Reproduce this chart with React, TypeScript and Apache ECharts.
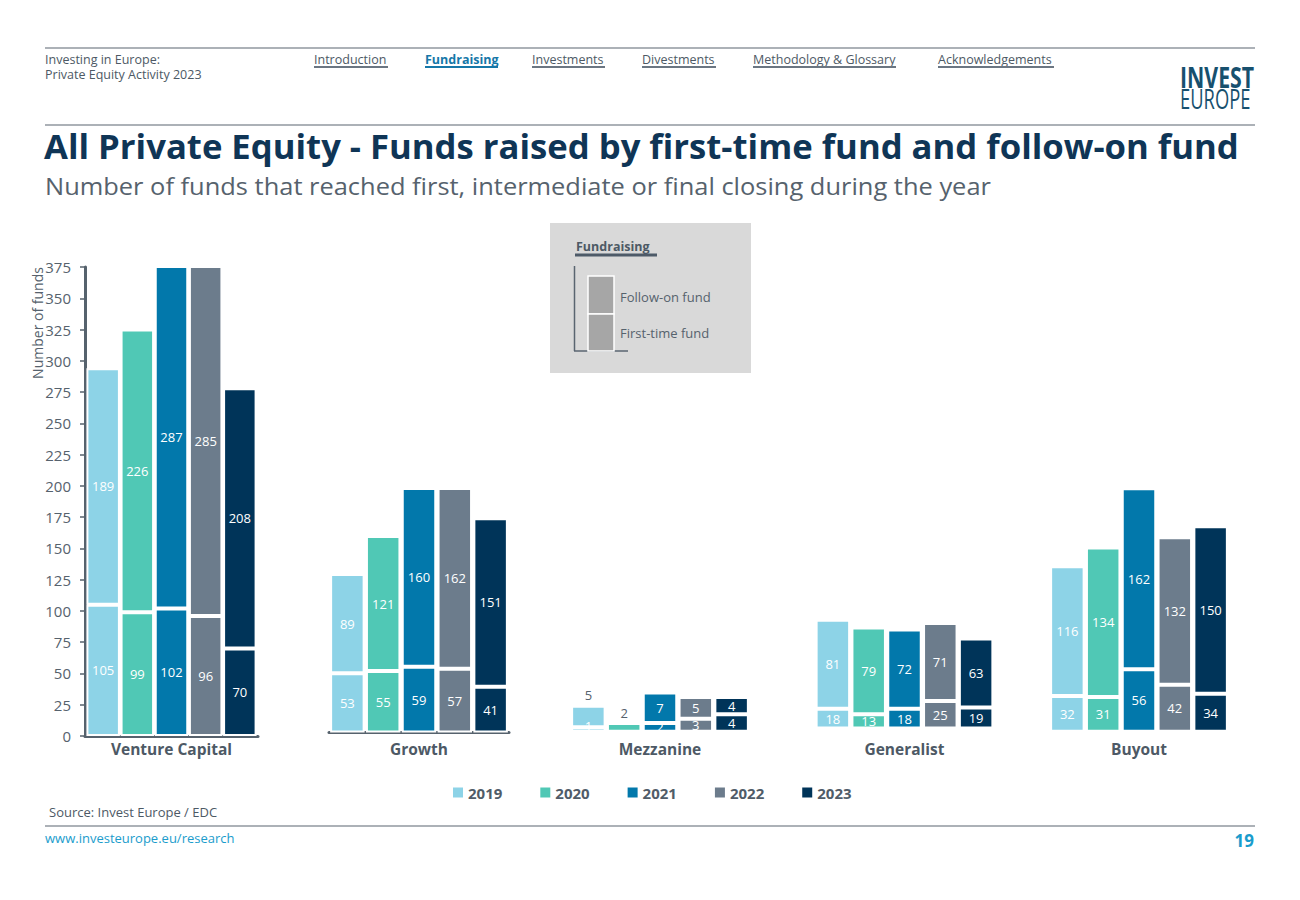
import React, { useEffect, useRef } from "react";
import * as echarts from "echarts";

// ---- data ----
const years = ["2019", "2020", "2021", "2022", "2023"];
const groups = ["Venture Capital", "Growth", "Mezzanine", "Generalist", "Buyout"];
const vcFirst = [105, 99, 102, 96, 70];
const vcFollow = [189, 226, 287, 285, 208];
const growthFirst = [53, 55, 59, 57, 41];
const growthFollow = [89, 121, 160, 162, 151];
const mezzFirst = [1, 0, 2, 3, 4];
const mezzFollow = [5, 2, 7, 5, 4];
const genFirst = [18, 13, 18, 25, 19];
const genFollow = [81, 79, 72, 71, 63];
const buyFirst = [32, 31, 56, 42, 34];
const buyFollow = [116, 134, 162, 132, 150];
const vcTickMax = 375;
const vcTickStep = 25;

const firstByGroup = [vcFirst, growthFirst, mezzFirst, genFirst, buyFirst];
const followByGroup = [vcFollow, growthFollow, mezzFollow, genFollow, buyFollow];

// ---- styling / layout ----
const colors = ["#8dd3e7", "#50c8b5", "#0278ab", "#6c7c8c", "#003459"];
const FONT = '"Open Sans", "Noto Sans", sans-serif';
const GREY = "#56626d";
const layout = [
  { left: 85, width: 173, top: 267, height: 469, max: 375, line: true, bw: 33.5, gap: "2%" },
  { left: 329, width: 180, top: 267, height: 465.5, max: 417, line: true, bw: 34.5, gap: "3.8%" },
  { left: 572, width: 176, top: 267, height: 464.7, max: 107, line: false, bw: 34.5, gap: "3.8%" },
  { left: 816.5, width: 176, top: 267, height: 461.5, max: 420, line: false, bw: 34.5, gap: "3.8%" },
  { left: 1051, width: 176, top: 267, height: 464.7, max: 416, line: false, bw: 34.5, gap: "3.8%" },
];
// mezzanine small follow-on labels drawn above the bar
const outsideLabel = [
  [false, false, false, false, false],
  [false, false, false, false, false],
  [true, true, false, false, false],
  [false, false, false, false, false],
  [false, false, false, false, false],
];

function txt(text: string, x: number, y: number, font: string, fill: string, align = "left", extra: any = {}) {
  return {
    type: "text",
    x,
    y,
    ...extra,
    style: { text, x: 0, y: 0, font, fill, align, verticalAlign: "middle" },
  };
}
function ln(x1: number, y1: number, x2: number, y2: number, stroke: string, lineWidth: number) {
  return { type: "line", shape: { x1, y1, x2, y2 }, style: { stroke, lineWidth } };
}

export default function App() {
  const ref = useRef<HTMLDivElement>(null);
  useEffect(() => {
    const chart = echarts.init(ref.current!, undefined, { renderer: "svg" });

    const grid = layout.map((l) => ({ left: l.left, width: l.width, top: l.top, height: l.height, containLabel: false }));
    const xAxis = layout.map((l, g) => ({
      type: "category",
      gridIndex: g,
      data: [groups[g]],
      axisLine: { show: l.line, lineStyle: { color: "#56626d", width: 3 } },
      axisTick: { show: false },
      axisLabel: {
        show: true,
        margin: 749 - 8 - (l.top + l.height),
        fontFamily: FONT,
        fontWeight: "bold",
        fontSize: 15.5,
        color: "#4d5965",
      },
    }));
    const yAxis = layout.map((l, g) =>
      g === 0
        ? {
            type: "value",
            gridIndex: g,
            min: 0,
            max: vcTickMax,
            interval: vcTickStep,
            axisLine: { show: true, lineStyle: { color: "#56626d", width: 3 } },
            axisTick: { show: true, length: 5, lineStyle: { color: "#56626d", width: 1.5 } },
            axisLabel: { fontFamily: FONT, fontSize: 15, color: GREY, margin: 14 },
            splitLine: { show: false },
          }
        : { type: "value", gridIndex: g, min: 0, max: l.max, show: false, splitLine: { show: false } }
    );

    const series: any[] = [];
    for (let g = 0; g < groups.length; g++) {
      const l = layout[g];
      for (let y = 0; y < years.length; y++) {
        const base = {
          type: "bar",
          name: years[y],
          xAxisIndex: g,
          yAxisIndex: g,
          stack: `g${g}y${y}`,
          barWidth: l.bw,
          barGap: l.gap,
          itemStyle: { color: colors[y], borderColor: "#ffffff", borderWidth: 2 },
          label: {
            show: true,
            position: "inside",
            color: "#ffffff",
            fontFamily: FONT,
            fontSize: 13,
            formatter: (p: any) => (p.value ? String(p.value) : ""),
          },
        };
        const ft = firstByGroup[g][y];
        const smallFirst = outsideLabel[g][y] && ft > 0;
        series.push({
          ...base,
          z: smallFirst ? 3 : 2,
          data: [smallFirst ? { value: ft, label: { offset: [0, -4], color: "#ffffff" } } : ft],
        });
        const fv = followByGroup[g][y];
        series.push({
          ...base,
          data: [
            outsideLabel[g][y]
              ? { value: fv, label: { position: "top", color: GREY, distance: 4 } }
              : fv,
          ],
        });
      }
    }

    const graphic: any[] = [
      ln(45, 48, 1255, 48, "#5a6570", 1.2),
      ln(45, 125, 1255, 125, "#5a6570", 1.2),
      ln(45, 826, 1255, 826, "#5a6570", 1.2),
      txt("Investing in Europe:", 45, 59, `12.5px ${FONT}`, "#4d5965"),
      txt("Private Equity Activity 2023", 45, 74, `12.5px ${FONT}`, "#4d5965"),
      // nav
      txt("Introduction", 314, 59, `12.5px ${FONT}`, "#4d5965"),
      ln(314, 67, 388, 67, "#6b7682", 2),
      txt("Fundraising", 425, 59, `bold 12.5px ${FONT}`, "#1677a8"),
      ln(425, 67, 498, 67, "#1677a8", 2),
      txt("Investments", 532, 59, `12.5px ${FONT}`, "#4d5965"),
      ln(532, 67, 605, 67, "#6b7682", 2),
      txt("Divestments", 642, 59, `12.5px ${FONT}`, "#4d5965"),
      ln(642, 67, 716, 67, "#6b7682", 2),
      txt("Methodology & Glossary", 753, 59, `12.5px ${FONT}`, "#4d5965"),
      ln(753, 67, 896, 67, "#6b7682", 2),
      txt("Acknowledgements", 938, 59, `12.5px ${FONT}`, "#4d5965"),
      ln(938, 67, 1054, 67, "#6b7682", 2),
      // logo
      txt("INVEST", 1180, 77, `bold 28px ${FONT}`, "#17506e", "left", { scaleX: 0.76 }),
      txt("EUROPE", 1180, 98, `27px ${FONT}`, "#17506e", "left", { scaleX: 0.68 }),
      // titles
      txt(
        "All Private Equity - Funds raised by first-time fund and follow-on fund",
        44,
        146,
        `bold 34px ${FONT}`,
        "#0f3556",
        "left",
        { scaleX: 1.02 }
      ),
      txt(
        "Number of funds that reached first, intermediate or final closing during the year",
        45,
        186,
        `24px ${FONT}`,
        "#56626d",
        "left",
        { scaleX: 1.06 }
      ),
      // legend box
      { type: "rect", shape: { x: 550, y: 223, width: 201, height: 150 }, style: { fill: "#d9d9d9" } },
      txt("Fundraising", 576, 246, `bold 12.5px ${FONT}`, "#4d5965"),
      ln(575, 255, 657, 255, "#4d5a68", 3),
      ln(574.5, 266, 574.5, 351, "#5a6570", 1.5),
      ln(574, 351, 628, 351, "#5a6570", 1.5),
      { type: "rect", shape: { x: 588, y: 276, width: 26, height: 38 }, style: { fill: "#a6a6a6", stroke: "#ffffff", lineWidth: 1.5 } },
      { type: "rect", shape: { x: 588, y: 314, width: 26, height: 37 }, style: { fill: "#a6a6a6", stroke: "#ffffff", lineWidth: 1.5 } },
      txt("Follow-on fund", 620, 297, `13px ${FONT}`, "#56626d"),
      txt("First-time fund", 620, 333, `13px ${FONT}`, "#56626d"),
      // y axis name
      txt("Number of funds", 37, 323, `14px ${FONT}`, GREY, "center", { rotation: Math.PI / 2 }),
      // footer
      txt("Source: Invest Europe / EDC", 49, 812, `13px ${FONT}`, "#4d5965"),
      txt("www.investeurope.eu/research", 45, 838, `13px ${FONT}`, "#1a9ccc"),
      txt("19", 1254, 840, `bold 17px ${FONT}`, "#1a9ccc", "right"),
    ];

    chart.setOption({
      animation: false,
      backgroundColor: "#ffffff",
      textStyle: { fontFamily: FONT },
      grid,
      xAxis,
      yAxis,
      legend: {
        data: years,
        left: 448,
        top: 780,
        icon: "rect",
        itemWidth: 10,
        itemHeight: 10,
        itemGap: 38,
        itemStyle: { borderWidth: 0 },
        textStyle: { fontFamily: FONT, fontWeight: "bold", fontSize: 15, color: "#505c68" },
        selectedMode: false,
      },
      series,
      graphic,
    });
    return () => chart.dispose();
  }, []);
  return <div ref={ref} style={{ position: "fixed", left: 0, top: 0, width: 1300, height: 900 }} />;
}
